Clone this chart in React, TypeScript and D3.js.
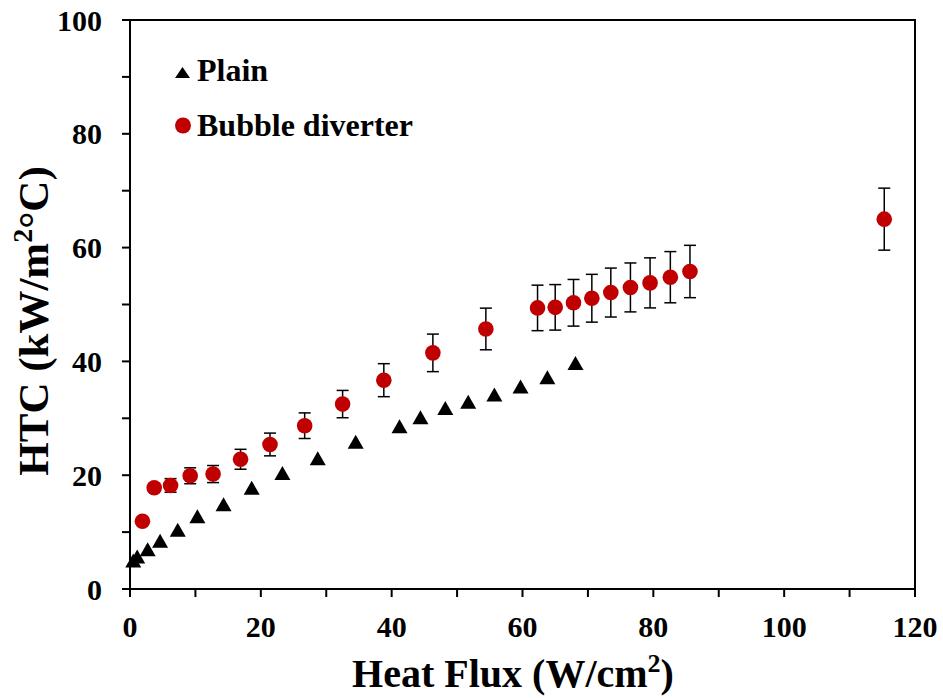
import React from "react";
import * as d3 from "d3";

const plainX = [0.5, 1.1, 2.7, 4.6, 7.3, 10.3, 14.3, 18.6, 23.3, 28.7, 34.5, 41.2, 44.4, 48.2, 51.7, 55.7, 59.7, 63.8, 68.1];
const plainY = [5.0, 5.7, 7.0, 8.5, 10.4, 12.8, 14.9, 17.8, 20.4, 23.0, 25.9, 28.6, 30.2, 31.8, 32.9, 34.2, 35.6, 37.2, 39.7];

const diverterX = [1.9, 3.7, 6.2, 9.2, 12.7, 16.9, 21.4, 26.7, 32.5, 38.8, 46.3, 54.4, 62.3, 65.0, 67.8, 70.6, 73.5, 76.5, 79.5, 82.6, 85.6, 115.3];
const diverterY = [11.9, 17.8, 18.2, 19.9, 20.2, 22.8, 25.4, 28.7, 32.5, 36.7, 41.5, 45.7, 49.4, 49.5, 50.3, 51.1, 52.1, 53.0, 53.8, 54.8, 55.8, 65.0];
const diverterErr = [0.5, 0.7, 1.2, 1.4, 1.5, 1.75, 2.0, 2.25, 2.4, 2.9, 3.3, 3.66, 4.0, 4.0, 4.1, 4.2, 4.3, 4.3, 4.4, 4.5, 4.6, 5.45];

const xTicks = [0, 10, 20, 30, 40, 50, 60, 70, 80, 90, 100, 110, 120];
const xLabels = [0, 20, 40, 60, 80, 100, 120];
const yTicks = [0, 10, 20, 30, 40, 50, 60, 70, 80, 90, 100];
const yLabels = [0, 20, 40, 60, 80, 100];

const seriesNames = ["Plain", "Bubble diverter"];

const W = 943;
const H = 698;
const L = 130, R = 915, T = 20, B = 589;
const RED = "#C00000";
const FONT = "'Liberation Serif', 'Times New Roman', serif";

function tri(cx: number, cy: number, w: number, h: number) {
  return `M${cx},${cy - h / 2}L${cx - w / 2},${cy + h / 2}L${cx + w / 2},${cy + h / 2}Z`;
}

export default function App() {
  const x = d3.scaleLinear().domain([0, 120]).range([L, R]);
  const y = d3.scaleLinear().domain([0, 100]).range([B, T]);
  const tickLen = 8;

  return (
    <svg width={W} height={H} style={{ position: "absolute", left: 0, top: 0, display: "block", background: "#fff" }}
      fontFamily={FONT} fontWeight="bold">
      <rect x={0} y={0} width={W} height={H} fill="#fff" />
      {/* frame */}
      <rect x={L} y={T} width={R - L} height={B - T} fill="none" stroke="#000" strokeWidth={2} />
      {/* x ticks */}
      {xTicks.map((t) => (
        <line key={"xt" + t} x1={x(t)} x2={x(t)} y1={B} y2={B + tickLen} stroke="#000" strokeWidth={2} />
      ))}
      {xLabels.map((t) => (
        <text key={"xl" + t} x={x(t)} y={637} textAnchor="middle" fontSize={30}>{t}</text>
      ))}
      {/* y ticks */}
      {yTicks.map((t) => (
        <line key={"yt" + t} x1={L - tickLen} x2={L} y1={y(t)} y2={y(t)} stroke="#000" strokeWidth={2} />
      ))}
      {yLabels.map((t) => (
        <text key={"yl" + t} x={102} y={y(t)} dy="0.35em" textAnchor="end" fontSize={30}>{t}</text>
      ))}
      {/* axis titles */}
      <text x={513} y={687} textAnchor="middle" fontSize={40}>
        Heat Flux (W/cm<tspan dy={-15} fontSize={26}>2</tspan><tspan dy={15}>)</tspan>
      </text>
      <text transform={`translate(48,321) rotate(-90)`} textAnchor="middle" fontSize={43}>
        HTC (kW/m<tspan dy={-16} fontSize={28}>2</tspan><tspan dy={16}>°C)</tspan>
      </text>
      {/* plain triangles */}
      {plainX.map((v, i) => (
        <path key={"p" + i} d={tri(x(v), y(plainY[i]), 16, 14)} fill="#000" />
      ))}
      {/* error bars */}
      {diverterX.map((v, i) => {
        const cx = x(v);
        const y1 = y(diverterY[i] + diverterErr[i]);
        const y2 = y(diverterY[i] - diverterErr[i]);
        return (
          <g key={"e" + i} stroke="#000" strokeWidth={1.5}>
            <line x1={cx} x2={cx} y1={y1} y2={y2} />
            <line x1={cx - 6} x2={cx + 6} y1={y1} y2={y1} />
            <line x1={cx - 6} x2={cx + 6} y1={y2} y2={y2} />
          </g>
        );
      })}
      {diverterX.map((v, i) => (
        <circle key={"c" + i} cx={x(v)} cy={y(diverterY[i])} r={7.8} fill={RED} />
      ))}
      {/* legend */}
      <path d={tri(182.5, 72.5, 15, 11)} fill="#000" />
      <text x={197} y={81} fontSize={32}>{seriesNames[0]}</text>
      <circle cx={183} cy={125.5} r={8} fill={RED} />
      <text x={197} y={136} fontSize={32}>{seriesNames[1]}</text>
    </svg>
  );
}
